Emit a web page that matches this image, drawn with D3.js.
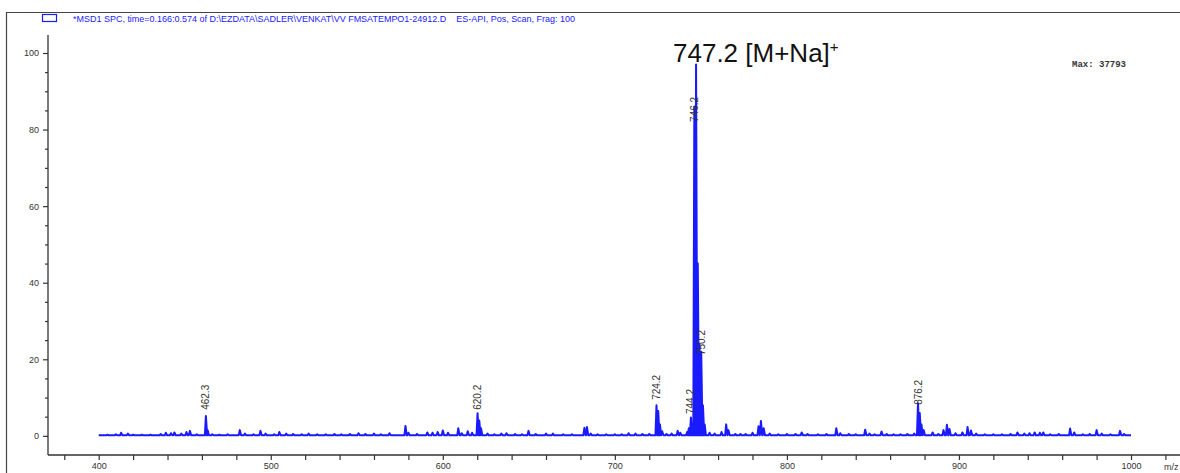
<!DOCTYPE html>
<html>
  <head>
    <meta charset="utf-8" />
    <title>MS spectrum</title>
    <script src="https://d3js.org/d3.v7.min.js"></script>
    <style>
        body { margin:0; background:#fff; }
        text { font-family: "Liberation Sans", Arial, sans-serif; }
    </style>
  </head>
  <body>
    <svg id="viz"></svg>
    <script>
    var width = 1180;
    var height = 473;

    // peak list: m/z and relative abundance (%)
    var peakMz = [405, 410, 413, 417, 420, 425, 430, 436, 439, 442, 444, 448, 451, 453, 457,
      462.3, 463.3, 466, 470, 475, 482, 485, 490, 494, 497, 502, 505, 509, 513, 518, 522, 527,
      532, 537, 541, 546, 551, 555, 560, 564, 569, 578.3, 580, 585, 591, 594, 597, 600, 603,
      609, 611, 614.5, 617, 620.2, 621.2, 622.2, 626, 630, 634, 637, 642, 646, 649.8, 654, 660,
      664, 670, 675, 682.3, 683.8, 686, 690, 695, 700, 704, 708, 712, 716, 720,
      724.2, 725.2, 726.2, 727.5, 730, 733, 736.5, 738, 742, 743, 744.2, 745.2,
      746.2, 747.2, 748.2, 749.2, 750.2, 751.2, 752.2, 755, 758, 762, 764.7, 766, 770, 773,
      776, 780, 783.5, 784.9, 786.5, 790, 795, 800, 805, 808.6, 812, 818, 823, 828.7, 831,
      836, 840, 845.5, 848, 851, 855, 858, 862, 866, 870, 874, 876.2, 877.2, 878.2, 879.5,
      884.7, 888, 891, 893, 894.5, 898, 902, 905, 907, 910, 915, 920, 925, 930, 934, 938,
      941, 944, 947, 949, 953, 958, 964.6, 967, 972, 976, 980, 983, 988, 993.6, 996];
    var peakInt = [0.3, 0.4, 0.8, 0.6, 0.3, 0.3, 0.3, 0.5, 0.8, 0.7, 0.9, 0.6, 1.0, 1.3, 0.4,
      5.2, 1.5, 0.4, 0.3, 0.4, 1.5, 0.6, 0.4, 1.3, 0.6, 0.4, 1.0, 0.6, 0.5, 0.4, 0.6, 0.4,
      0.4, 0.5, 0.4, 0.5, 0.7, 0.5, 0.6, 0.4, 0.7, 2.6, 0.8, 0.5, 0.9, 0.8, 1.0, 1.4, 0.8,
      2.0, 0.7, 1.2, 0.8, 5.9, 4.0, 2.0, 0.6, 0.4, 0.6, 0.7, 0.5, 0.4, 1.3, 0.5, 0.6,
      0.6, 0.4, 0.4, 2.1, 2.3, 0.6, 0.4, 0.4, 0.4, 0.4, 0.7, 0.6, 0.5, 0.5,
      8.0, 6.5, 3.0, 1.2, 0.5, 0.6, 1.3, 0.8, 1.0, 2.0, 4.8, 3.0,
      86, 97, 45, 24, 22, 8, 3, 0.8, 0.6, 1.0, 3.0, 1.5, 0.5, 0.5,
      0.5, 0.8, 2.5, 3.9, 2.0, 0.6, 0.4, 0.5, 0.5, 0.9, 0.5, 0.4, 0.5, 2.0, 0.7,
      0.5, 0.4, 1.6, 0.6, 0.4, 1.1, 0.5, 0.4, 0.4, 0.5, 0.6, 8.5, 6.0, 3.0, 1.5,
      0.9, 0.5, 1.5, 2.9, 1.8, 0.7, 0.9, 2.3, 1.4, 0.6, 0.4, 0.4, 0.4, 0.5, 0.9, 0.6,
      0.7, 0.9, 0.8, 0.9, 0.4, 0.5, 1.9, 0.9, 0.4, 0.5, 1.5, 0.6, 0.4, 1.3, 0.5];

    // labelled peaks and the height (%) where each label starts
    var labelText = ["462.3", "620.2", "724.2", "744.2", "746.2", "750.2", "876.2"];
    var labelMz = [462.3, 620.2, 724.2, 744.2, 746.2, 750.2, 876.2];
    var labelAt = [6.8, 6.8, 9.4, 5.7, 82, 21.1, 8.1];

    var yTicks = [0, 20, 40, 60, 80, 100];
    var xTicks = [400, 500, 600, 700, 800, 900, 1000];

    var titleText = "*MSD1 SPC, time=0.166:0.574 of D:\\EZDATA\\SADLER\\VENKAT\\VV FMSATEMPO1-24912.D    ES-API, Pos, Scan, Frag: 100";

    var svg = d3.select("#viz")
      .attr("width", width)
      .attr("height", height);

    var x = d3.scaleLinear().domain([400, 1000]).range([98.7, 1131]);
    var y = d3.scaleLinear().domain([-5, 104.7]).range([455, 35]);

    // frame
    svg.append("path")
      .attr("d", "M6.5,473V12.5H1180")
      .attr("fill", "none")
      .attr("stroke", "#444")
      .attr("stroke-width", 1.2);

    // header
    svg.append("rect")
      .attr("x", 42.5).attr("y", 14.5)
      .attr("width", 14).attr("height", 7)
      .attr("fill", "none").attr("stroke", "#1a1aff").attr("stroke-width", 1.2);
    svg.append("text")
      .attr("x", 73).attr("y", 22)
      .attr("font-size", "9px")
      .attr("fill", "#1a1aff")
      .attr("textLength", 502)
      .attr("xml:space", "preserve")
      .text(titleText);

    // axes
    svg.append("g")
      .attr("transform", "translate(48,0)")
      .call(d3.axisLeft(y).tickValues(yTicks).tickSize(5).tickPadding(4));
    svg.append("g")
      .attr("transform", "translate(48,0)")
      .call(d3.axisLeft(y).tickValues(d3.range(5, 100, 5).filter(function(d){ return d % 20; }))
        .tickSize(3).tickFormat(""));

    svg.append("g")
      .attr("transform", "translate(0,455)")
      .call(d3.axisBottom(x).tickValues(xTicks).tickSize(5).tickPadding(3).tickFormat(d3.format("d")));
    svg.append("g")
      .attr("transform", "translate(0,455)")
      .call(d3.axisBottom(x).tickValues(d3.range(380, 1021, 20).filter(function(d){ return d % 100; }))
        .tickSize(5).tickFormat(""));

    svg.selectAll(".domain").remove();
    svg.selectAll(".tick line").attr("stroke", "#333").attr("stroke-width", 1.2);
    svg.selectAll(".tick text").attr("fill", "#333").attr("font-size", "9px");

    svg.append("line")
      .attr("x1", 48).attr("x2", 48)
      .attr("y1", y(104.7)).attr("y2", y(-5))
      .attr("stroke", "#333").attr("stroke-width", 1.3);
    svg.append("line")
      .attr("x1", 48).attr("x2", width)
      .attr("y1", y(-5)).attr("y2", y(-5))
      .attr("stroke", "#333").attr("stroke-width", 1.3);

    svg.append("text")
      .attr("x", 1164).attr("y", 470)
      .attr("font-size", "9px").attr("fill", "#333")
      .text("m/z");

    // spectrum profile built from the peak list
    var pts = [[400, 0.15]];
    peakMz.forEach(function(m, i) {
      pts.push([m - 0.6, 0.15], [m, peakInt[i]], [m + 0.75, 0.15]);
    });
    pts.push([1000, 0.15]);

    var line = d3.line()
      .x(function(d){ return x(d[0]); })
      .y(function(d){ return y(d[1]); });

    svg.append("path")
      .datum(pts)
      .attr("d", line)
      .attr("fill", "none")
      .attr("stroke", "#1a1aff")
      .attr("stroke-width", 2)
      .attr("stroke-linejoin", "round");

    // peak labels
    svg.selectAll(".plabel")
      .data(labelText)
      .enter().append("text")
      .attr("class", "plabel")
      .attr("transform", function(d, i){
        return "translate(" + x(labelMz[i]) + "," + y(labelAt[i]) + ") rotate(-90)";
      })
      .attr("dy", "0.35em")
      .attr("font-size", "10px")
      .attr("fill", "#333")
      .text(function(d){ return d; });

    // annotations
    var ann = svg.append("text")
      .attr("x", 673).attr("y", 62)
      .attr("font-size", "26px")
      .attr("fill", "#111")
      .text("747.2 [M+Na]");
    ann.append("tspan")
      .attr("dy", -10)
      .attr("font-size", "15px")
      .text("+");

    svg.append("text")
      .attr("x", 1072).attr("y", 67)
      .style("font-family", "'Liberation Mono', 'DejaVu Sans Mono', monospace")
      .attr("font-weight", "bold")
      .attr("font-size", "9px")
      .attr("fill", "#333")
      .text("Max: 37793");
    </script>
  </body>
</html>
